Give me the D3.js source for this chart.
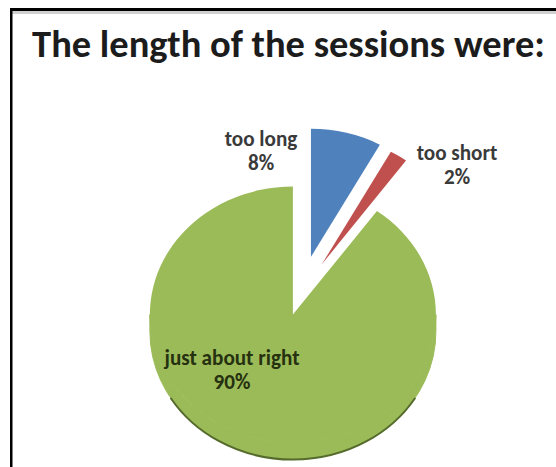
<!DOCTYPE html>
<html>
<head>
<meta charset="utf-8">
<script src="https://cdn.jsdelivr.net/npm/d3@7"></script>
<style>
  html, body { margin: 0; padding: 0; background: #ffffff; }
  svg { display: block; }
</style>
</head>
<body>
<svg id="chart" width="556" height="467"></svg>
<script>
// Survey answers: how long the sessions felt
const categories = ["too long", "too short", "just about right"];
const values = [8, 2, 90];
const valueLabels = ["8%", "2%", "90%"];
const sliceColors = ["#4f81bd", "#c0504d", "#9bbb59"];
const titleText = "The length of the sessions were:";

const W = 556, H = 467;
const svg = d3.select("#chart");

// frame around the slide
svg.append("rect").attr("x", 10).attr("y", 11).attr("width", W - 10).attr("height", 3).attr("fill", "#d0d0d0");
svg.append("rect").attr("x", 10).attr("y", 8).attr("width", W - 10).attr("height", 3).attr("fill", "#000");
svg.append("rect").attr("x", 10).attr("y", 8).attr("width", 2.5).attr("height", H - 8).attr("fill", "#000");

// title, sized to span the slide width
const title = svg.append("text")
  .attr("x", 288.5).attr("y", 57)
  .attr("text-anchor", "middle")
  .attr("font-family", "Carlito, Lato, 'Open Sans', sans-serif")
  .attr("font-weight", "bold")
  .attr("font-size", 30)
  .attr("fill", "#1c1c1c")
  .text(titleText);
const tw = title.node().getComputedTextLength();
title.attr("font-size", 30 * 513 / tw);

// pie geometry: a tilted disc (vertical squash k) with a thin front wall
const rx = 143, k = 128 / 143, thickness = 17;
const cx = 300, cy = 295;
const explode = [44, 41, 23];

const pie = d3.pie().sort(null).value(d => d);
const arcs = pie(values);
const arcGen = d3.arc().innerRadius(0).outerRadius(rx);

const g = svg.append("g").attr("transform", `translate(${cx},${cy}) scale(1,${k})`);

const slices = g.selectAll("g.slice").data(arcs).enter().append("g")
  .attr("class", "slice")
  .attr("transform", (d, i) => {
    const mid = (d.startAngle + d.endAngle) / 2;
    return `translate(${explode[i] * Math.sin(mid)},${-explode[i] * Math.cos(mid)})`;
  });

// front wall of slices facing the viewer, with a dark rim along the bottom
const T = thickness / k;
slices.each(function (d, i) {
  const a0 = Math.max(d.startAngle, Math.PI / 2);
  const a1 = Math.min(d.endAngle, 3 * Math.PI / 2);
  if (a1 <= a0) return;
  const s = a0 - Math.PI / 2, e = a1 - Math.PI / 2;
  const p = d3.path();
  p.moveTo(rx * Math.cos(s), rx * Math.sin(s));
  p.arc(0, 0, rx, s, e, false);
  p.lineTo(rx * Math.cos(e), rx * Math.sin(e) + T);
  p.arc(0, T, rx, e, s, true);
  p.closePath();
  d3.select(this).append("path").attr("d", p.toString())
    .attr("fill", sliceColors[i]).attr("stroke", sliceColors[i]).attr("stroke-width", 1)
    .attr("vector-effect", "non-scaling-stroke");
  const rs = Math.max(s, 0.55), re = Math.min(e, Math.PI - 0.55);
  if (re > rs) {
    const edge = d3.path();
    edge.moveTo(rx * Math.cos(rs), rx * Math.sin(rs) + T);
    edge.arc(0, T, rx, rs, re, false);
    d3.select(this).append("path").attr("d", edge.toString())
      .attr("fill", "none").attr("stroke", "#556b2c").attr("stroke-width", 2)
      .attr("stroke-linecap", "round")
      .attr("vector-effect", "non-scaling-stroke");
  }
});

// top faces
slices.append("path")
  .attr("d", arcGen)
  .attr("fill", (d, i) => sliceColors[i]);

// data labels
const labelPos = [
  { x: 261, y: 146, fill: "#3a3a3a" },
  { x: 457, y: 160, fill: "#3a3a3a" },
  { x: 232, y: 365, fill: "#26310f" }
];
const lbl = svg.append("g")
  .attr("font-family", "Carlito, Lato, 'Open Sans', sans-serif")
  .attr("font-weight", "bold")
  .attr("text-anchor", "middle");

const probe = lbl.append("text").attr("font-size", 16).text(categories[2]);
const labelSize = 16 * 135 / probe.node().getComputedTextLength();
probe.remove();

categories.forEach((c, i) => {
  const t = lbl.append("text")
    .attr("x", labelPos[i].x).attr("y", labelPos[i].y)
    .attr("font-size", labelSize)
    .attr("fill", labelPos[i].fill);
  t.append("tspan").attr("x", labelPos[i].x).text(c);
  t.append("tspan").attr("x", labelPos[i].x).attr("dy", 24).text(valueLabels[i]);
});
</script>
</body>
</html>
